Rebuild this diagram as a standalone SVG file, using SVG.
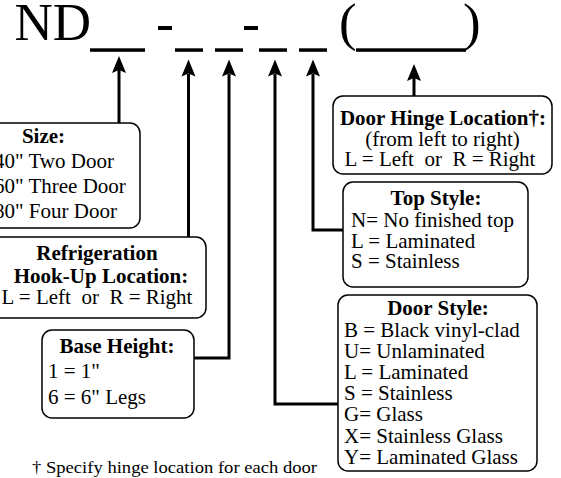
<svg xmlns="http://www.w3.org/2000/svg" xmlns:xlink="http://www.w3.org/1999/xlink" width="561" height="478" viewBox="0 0 561 478">
  <style>
    text { font-family: "Liberation Serif", "Times New Roman", serif; fill: #000; white-space: pre; }
    .t { font-size: 21px; }
    .b { font-size: 21px; font-weight: bold; }
    .big { font-size: 53px; }
    .note { font-size: 17px; }
    .box { fill: #fff; stroke: #000; stroke-width: 1.5; }
    .con { fill: none; stroke: #000; stroke-width: 3; }
    .bar { fill: #000; }
    .mid { text-anchor: middle; }
  </style>
  <defs>
    <path id="ah" d="M0 0 L7 17 L0 14 L-7 17 Z" fill="#000"/>
  </defs>
  <rect width="561" height="478" fill="#fff"/>

  <g id="title">
    <text class="big" x="14.5" y="40">ND</text>
    <rect class="bar" x="90" y="48.3" width="55" height="3.5"/>
    <rect class="bar" x="158" y="26" width="14" height="4"/>
    <rect class="bar" x="175" y="48.3" width="28" height="3.5"/>
    <rect class="bar" x="215" y="48.3" width="28" height="3.5"/>
    <rect class="bar" x="244" y="26" width="14" height="4"/>
    <rect class="bar" x="259" y="48.3" width="28" height="3.5"/>
    <rect class="bar" x="299" y="48.3" width="28" height="3.5"/>
    <text class="big" x="339" y="40">(</text>
    <rect class="bar" x="356" y="48.3" width="110" height="3.5"/>
    <text class="big" x="463" y="40">)</text>
  </g>

  <g id="connectors">
    <path class="con" d="M119 70 V123"/>
    <path class="con" d="M188.5 74 V237"/>
    <path class="con" d="M229 74 V358 H194"/>
    <path class="con" d="M275 74 V404 H338"/>
    <path class="con" d="M313 74 V230 H343"/>
    <path class="con" d="M414 78 V96"/>
    <use xlink:href="#ah" x="119" y="56"/>
    <use xlink:href="#ah" x="188.5" y="59.5"/>
    <use xlink:href="#ah" x="229" y="59.5"/>
    <use xlink:href="#ah" x="275" y="59.5"/>
    <use xlink:href="#ah" x="313" y="59.5"/>
    <use xlink:href="#ah" x="414" y="64"/>
  </g>

  <g id="node-size">
    <rect class="box" x="-60" y="123" width="200" height="105" rx="10"/>
    <text class="b mid" x="43.5" y="143">Size:</text>
    <text class="t" x="-6" y="168">40" Two Door</text>
    <text class="t" x="-6" y="193">60" Three Door</text>
    <text class="t" x="-6" y="218">80" Four Door</text>
  </g>

  <g id="node-refrigeration">
    <rect class="box" x="-10" y="237" width="216" height="81" rx="10"/>
    <text class="b mid" x="97" y="260">Refrigeration</text>
    <text class="b mid" x="101" y="283">Hook-Up Location:</text>
    <text class="t mid" x="97" y="304">L = Left  or  R = Right</text>
  </g>

  <g id="node-base-height">
    <rect class="box" x="42" y="330" width="152" height="88" rx="10"/>
    <text class="b mid" x="117" y="353">Base Height:</text>
    <text class="t" x="48" y="378">1 = 1"</text>
    <text class="t" x="48" y="404">6 = 6" Legs</text>
  </g>

  <g id="node-hinge">
    <rect class="box" x="333" y="96" width="219" height="78" rx="10"/>
    <text class="b mid" x="443" y="125">Door Hinge Location†:</text>
    <text class="t mid" x="442.5" y="146">(from left to right)</text>
    <text class="t mid" x="440" y="166">L = Left  or  R = Right</text>
  </g>

  <g id="node-top-style">
    <rect class="box" x="343" y="182" width="185" height="105" rx="10"/>
    <text class="b mid" x="436" y="205">Top Style:</text>
    <text class="t" x="351" y="227">N= No finished top</text>
    <text class="t" x="351" y="248">L = Laminated</text>
    <text class="t" x="351" y="268">S = Stainless</text>
  </g>

  <g id="node-door-style">
    <rect class="box" x="338" y="295" width="199" height="176" rx="10"/>
    <text class="b mid" x="438" y="315">Door Style:</text>
    <text class="t" x="344" y="336.5">B = Black vinyl-clad</text>
    <text class="t" x="344" y="357.7">U= Unlaminated</text>
    <text class="t" x="344" y="378.9">L = Laminated</text>
    <text class="t" x="344" y="400.1">S = Stainless</text>
    <text class="t" x="344" y="421.3">G= Glass</text>
    <text class="t" x="344" y="442.5">X= Stainless Glass</text>
    <text class="t" x="344" y="463.7">Y= Laminated Glass</text>
  </g>

  <g id="footnote">
    <text class="note" x="32" y="473" textLength="285" lengthAdjust="spacingAndGlyphs">† Specify hinge location for each door</text>
  </g>
</svg>
